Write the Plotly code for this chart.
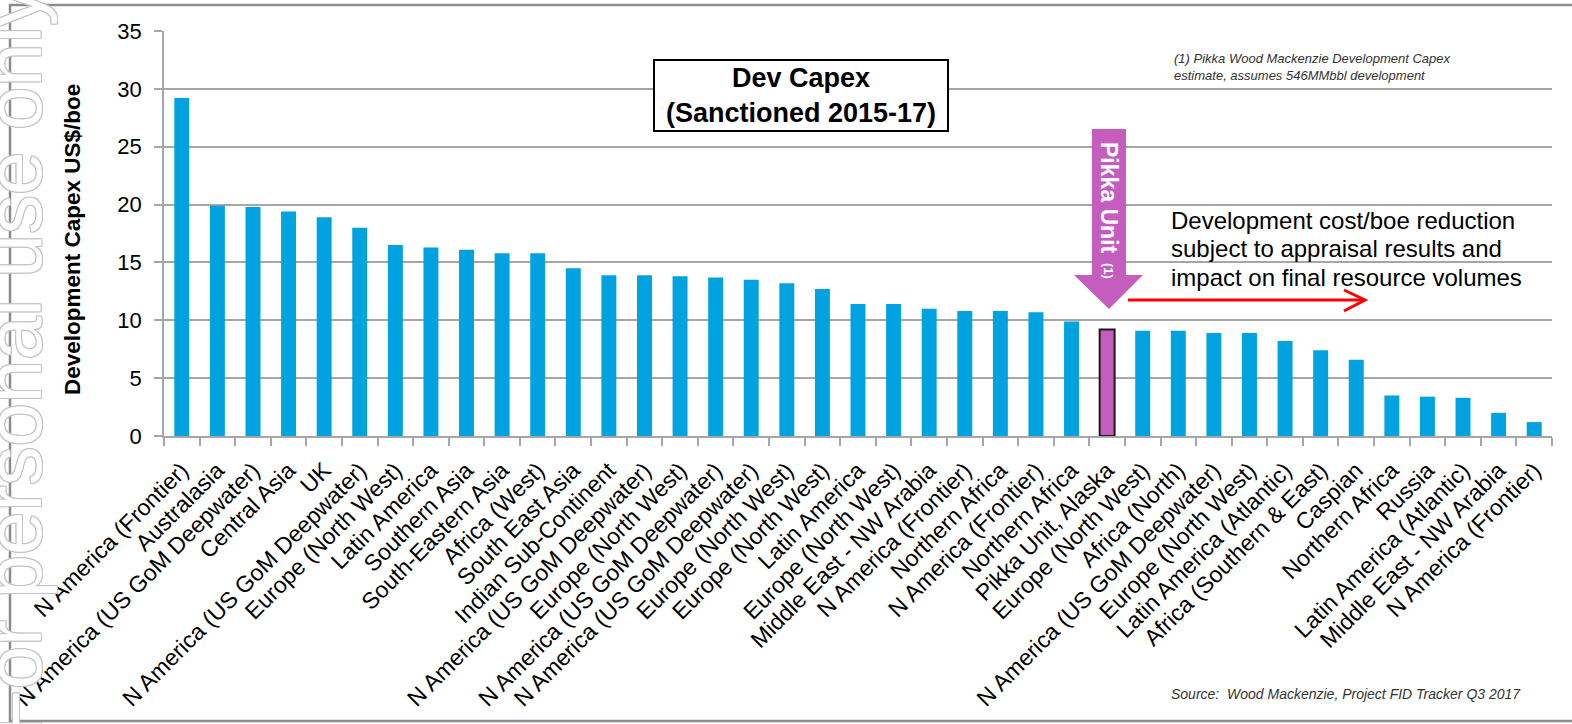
import plotly.graph_objects as go

# ---------------- data ----------------
categories = [
    "N America (Frontier)", "Australasia", "N America (US GoM Deepwater)", "Central Asia", "UK",
    "N America (US GoM Deepwater)", "Europe (North West)", "Latin America", "Southern Asia",
    "South-Eastern Asia", "Africa (West)", "South East Asia", "Indian Sub-Continent",
    "N America (US GoM Deepwater)", "Europe (North West)", "N America (US GoM Deepwater)",
    "N America (US GoM Deepwater)", "Europe (North West)", "Europe (North West)", "Latin America",
    "Europe (North West)", "Middle East - NW Arabia", "N America (Frontier)", "Northern Africa",
    "N America (Frontier)", "Northern Africa", "Pikka Unit, Alaska", "Europe (North West)",
    "Africa (North)", "N America (US GoM Deepwater)", "Europe (North West)",
    "Latin America (Atlantic)", "Africa (Southern & East)", "Caspian", "Northern Africa",
    "Russia", "Latin America (Atlantic)", "Middle East - NW Arabia", "N America (Frontier)",
]
values = [
    29.2, 19.9, 19.8, 19.4, 18.9, 18.0, 16.5, 16.3, 16.1, 15.8, 15.8, 14.5, 13.9,
    13.9, 13.8, 13.7, 13.5, 13.2, 12.7, 11.4, 11.4, 11.0, 10.8, 10.8, 10.7, 9.9,
    9.2, 9.1, 9.1, 8.9, 8.9, 8.2, 7.4, 6.6, 3.5, 3.4, 3.3, 2.0, 1.2,
]
highlight = "Pikka Unit, Alaska"
y_ticks = [0, 5, 10, 15, 20, 25, 30, 35]
note_lines = [
    "Development cost/boe reduction",
    "subject to appraisal results and",
    "impact on final resource volumes",
]

# ---------------- geometry helpers ----------------
W, H = 1572, 724
L, R, T, B = 164, 20, 31, 288
PW = W - L - R
PH = H - T - B


def px(x):
    return (x - L) / PW


def py(y):
    return (H - B - y) / PH


BLUE = "#00A2DF"
PURPLE = "#C55DBF"
GRID = "#A6A6A6"
FONT = "Liberation Sans, Arial, sans-serif"

idx = list(range(len(categories)))
colors = [PURPLE if c == highlight else BLUE for c in categories]
line_w = [2 if c == highlight else 0 for c in categories]

fig = go.Figure(
    go.Bar(
        x=idx,
        y=values,
        width=0.42,
        marker=dict(color=colors, line=dict(color="#1a1a1a", width=line_w)),
        hoverinfo="skip",
    )
)

fig.update_layout(
    width=W,
    height=H,
    margin=dict(l=L, r=R, t=T, b=B, autoexpand=False),
    paper_bgcolor="white",
    plot_bgcolor="white",
    showlegend=False,
    font=dict(family=FONT, color="black"),
)

fig.update_xaxes(
    range=[-0.5, len(categories) - 0.5],
    tickmode="array",
    tickvals=idx,
    ticktext=categories,
    tickangle=-45,
    tickfont=dict(size=23, color="black"),
    ticks="",
    ticklabelstandoff=10,
    ticklabeloverflow="allow",
    showline=True,
    linecolor=GRID,
    linewidth=1.5,
    showgrid=False,
    zeroline=False,
    minor=dict(
        tickmode="array",
        tickvals=[i - 0.5 for i in range(len(categories) + 1)],
        ticks="outside",
        ticklen=8,
        tickwidth=1.5,
        tickcolor=GRID,
        showgrid=False,
    ),
    automargin=False,
)

fig.update_yaxes(
    range=[0, 35],
    tickmode="array",
    tickvals=y_ticks,
    tickfont=dict(size=22, color="black"),
    ticks="outside",
    ticklen=8,
    tickwidth=1.5,
    tickcolor=GRID,
    ticklabelstandoff=8,
    showline=True,
    linecolor=GRID,
    linewidth=1.5,
    showgrid=True,
    gridcolor=GRID,
    gridwidth=1.5,
    zeroline=False,
    automargin=False,
)

shapes = []
# outer frame
shapes.append(dict(type="rect", xref="paper", yref="paper",
                   x0=px(10), x1=px(1600), y0=py(721), y1=py(5),
                   line=dict(color="#8C8C8C", width=2.5), layer="above"))
# Pikka down arrow
pts = [(1092, 129), (1126, 129), (1126, 275), (1143, 275), (1109, 309),
       (1074, 275), (1092, 275)]
path = "M " + " L ".join(f"{px(a):.5f},{py(b):.5f}" for a, b in pts) + " Z"
shapes.append(dict(type="path", xref="paper", yref="paper", path=path,
                   fillcolor=PURPLE, line=dict(width=0), layer="above"))
# red arrow
shapes.append(dict(type="line", xref="paper", yref="paper",
                   x0=px(1128), x1=px(1363), y0=py(300), y1=py(300),
                   line=dict(color="#FF0000", width=3)))
chev = [(1344, 290), (1365, 300), (1344, 311)]
shapes.append(dict(type="path", xref="paper", yref="paper",
                   path="M " + " L ".join(f"{px(a):.5f},{py(b):.5f}" for a, b in chev),
                   line=dict(color="#FF0000", width=3)))
fig.update_layout(shapes=shapes)

OUT = "#C4C4C4"
outline = ", ".join(f"{a}px {b}px 0 {OUT}" for a, b in
                    [(1, 0), (-1, 0), (0, 1), (0, -1), (1, 1), (-1, -1), (1, -1), (-1, 1)])

ann = []
# watermark
ann.append(dict(xref="paper", yref="paper", x=px(14), y=py(362), showarrow=False,
                text="For personal use only", textangle=-90,
                font=dict(size=78, color="white", family=FONT, shadow=outline),
                xanchor="center", yanchor="middle"))
# y-axis title
ann.append(dict(xref="paper", yref="paper", x=px(72), y=py(240), showarrow=False,
                text="<b>Development Capex US$/boe</b>", textangle=-90,
                font=dict(size=22.5, color="black"), xanchor="center", yanchor="middle"))
# title box
ann.append(dict(xref="paper", yref="paper", x=px(801), y=py(95.5), showarrow=False,
                text="<b>Dev Capex<br>(Sanctioned 2015-17)</b>",
                font=dict(size=27, color="black"), bgcolor="white",
                bordercolor="black", borderwidth=2, borderpad=2,
                width=288, height=65, xanchor="center", yanchor="middle"))
# footnote
ann.append(dict(xref="paper", yref="paper", x=px(1172), y=py(49), showarrow=False,
                text="<i>(1) Pikka Wood Mackenzie Development Capex<br>estimate, assumes 546MMbbl development</i>",
                font=dict(size=13, color="#333333"), align="left",
                xanchor="left", yanchor="top"))
# source
ann.append(dict(xref="paper", yref="paper", x=px(1169), y=py(694), showarrow=False,
                text="<i>Source:  Wood Mackenzie, Project FID Tracker Q3 2017</i>",
                font=dict(size=14, color="#333333"), align="left",
                xanchor="left", yanchor="middle"))
# reduction note
for i, line in enumerate(note_lines):
    ann.append(dict(xref="paper", yref="paper", x=px(1169), y=py(220 + 28.5 * i), showarrow=False,
                    text=line, font=dict(size=24, color="black"), align="left",
                    xanchor="left", yanchor="middle"))
# Pikka arrow labels
ann.append(dict(xref="paper", yref="paper", x=px(1109), y=py(198), showarrow=False,
                text="<b>Pikka Unit</b>", textangle=90,
                font=dict(size=23, color="white"), xanchor="center", yanchor="middle"))
ann.append(dict(xref="paper", yref="paper", x=px(1109), y=py(271), showarrow=False,
                text="<b>(1)</b>", textangle=90,
                font=dict(size=13, color="white"), xanchor="center", yanchor="middle"))
fig.update_layout(annotations=ann)

fig.write_html("out.html", post_script="document.body.style.margin='0';",
               config={"displayModeBar": False})
